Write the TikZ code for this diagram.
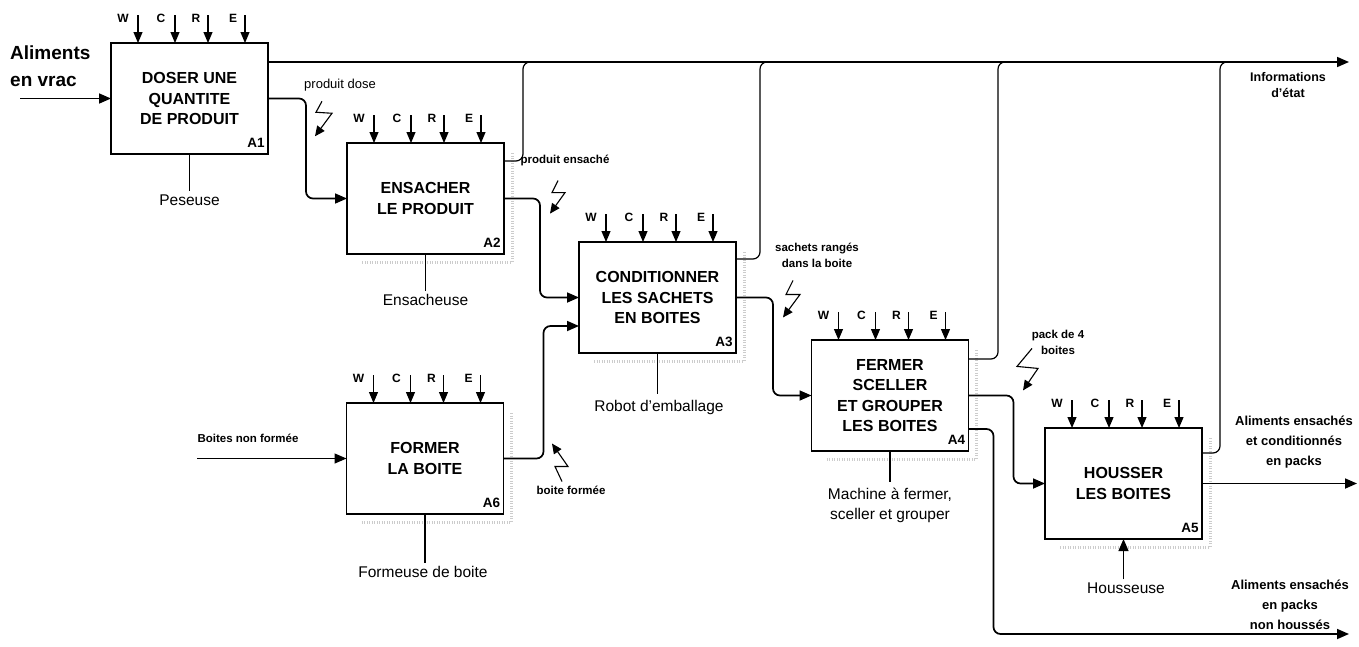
\documentclass[tikz,border=0pt]{standalone}
\usepackage{fontspec}
\setmainfont{Liberation Sans}
\usetikzlibrary{arrows.meta,calc}
\begin{document}
\begin{tikzpicture}[x=1pt,y=-1pt,
  box/.style={draw, line width=1.4pt, minimum width=157pt, minimum height=111pt, inner sep=0pt, outer sep=0pt,
    font=\fontsize{16}{20.5}\selectfont\bfseries, align=center},
  tipA/.style={-{Triangle[length=12pt,width=10pt]}},
  tipC/.style={-{Triangle[length=11pt,width=9pt]}},
  flow/.style={line width=1.7pt, rounded corners=7pt},
  ctl/.style={line width=1.1pt, tipC},
  mech/.style={line width=1.1pt},
  mechtxt/.style={font=\fontsize{15.5}{20}\selectfont, align=center, inner sep=3pt},
  ctltxt/.style={font=\fontsize{12}{13}\selectfont\bfseries, inner sep=0pt},
  idtxt/.style={font=\fontsize{13.5}{14}\selectfont\bfseries, inner sep=0pt},
  small/.style={font=\fontsize{11.5}{16}\selectfont\bfseries, align=center, inner sep=0pt},
  outtxt/.style={font=\fontsize{13}{20}\selectfont\bfseries, align=center, inner sep=0pt},
  bolt/.style={line width=1.1pt, -{Triangle[length=10pt,width=9pt]}},
  shade/.style={draw=gray!40, line width=3pt, dash pattern=on 1pt off 1.5pt}
]
\useasboundingbox (0,0) rectangle (1359,646);

% boxes
\node[box] (a1) at (189.5,98.5) {DOSER UNE\\QUANTITE\\DE PRODUIT};
\node[box] (a2) at (425.5,198.5) {ENSACHER\\LE PRODUIT};
\node[box] (a3) at (657.5,297.5) {CONDITIONNER\\LES SACHETS\\EN BOITES};
\node[box] (a4) at (890,395.5) {FERMER\\SCELLER\\ET GROUPER\\LES BOITES};
\node[box] (a5) at (1123.5,483.5) {HOUSSER\\LES BOITES};
\node[box] (a6) at (425,458.5) {FORMER\\LA BOITE};

% faint shadows
\foreach \b in {a2,a3,a4,a5,a6} {
  \draw[shade] ([shift={(15,8)}]\b.south west) -- ([shift={(8,8)}]\b.south east);
  \draw[shade] ([shift={(8,10)}]\b.north east) -- ([shift={(8,8)}]\b.south east);
}

% ids and controls
\foreach \b/\id in {a1/A1,a2/A2,a3/A3,a4/A4,a5/A5,a6/A6} {
  \node[idtxt] (\b-id) at ([shift={(-12,-11)}]\b.south east) {\id};
  \foreach \dx/\l/\lx in {27/W/15, 64/C/14, 97/R/12, 134/E/12} {
    \draw[ctl] ([shift={(\dx,-28)}]\b.north west) -- ([shift={(\dx,0)}]\b.north west);
    \node[ctltxt] (\b-\l) at ([shift={(\dx-\lx,-25)}]\b.north west) {\l};
  }
}

% input of A1
\node[font=\fontsize{19}{27}\selectfont\bfseries, align=left, anchor=west, inner sep=0pt] (in1) at (10,66) {Aliments\\en vrac};
\coordinate (in1s) at (20,98.5);
\draw[flow, tipA] (in1s) -- (a1.west);

% top status line
\coordinate (infoend) at (1349,62);
\draw[flow, tipA] ([shift={(0,19)}]a1.north east) -- (infoend);
\node[outtxt, font=\fontsize{12.5}{15.5}\selectfont\bfseries] (info) at (1288,85) {Informations\\d'état};

\draw[flow, line width=1.2pt] ([shift={(0,18)}]a2.north east) -| (523,62) -- (545,62);
\draw[flow, line width=1.2pt] ([shift={(0,17)}]a3.north east) -| (760,62) -- (782,62);
\draw[flow, line width=1.2pt] ([shift={(0,19)}]a4.north east) -| (998,62) -- (1020,62);
\draw[flow, line width=1.2pt] ([shift={(0,25)}]a5.north east) -| (1220,62) -- (1242,62);

% main flows
\draw[flow, tipA] (a1.east) -- ++(38,0) |- (a2.west);
\draw[flow, tipA] (a2.east) -- ++(36,0) |- (a3.west);
\draw[flow, tipA] (a6.east) -- ++(40,0) |- ([shift={(0,28.5)}]a3.west);
\draw[flow, tipA] (a3.east) -- ++(37,0) |- (a4.west);
\draw[flow, tipA] (a4.east) -- ++(45,0) |- (a5.west);
\coordinate (botend) at (1349,634);
\draw[flow, tipA] ([shift={(0,89)}]a4.north east) -- ++(25,0) |- (botend);
\coordinate (out5) at (1357,483.5);
\draw[flow, tipA] (a5.east) -- (out5);

% input of A6
\node[small] (in6) at (248,438) {Boites non formée};
\coordinate (in6s) at (197,458.5);
\draw[flow, line width=1.3pt, tipA] (in6s) -- (a6.west);

% output labels
\node[outtxt] (o1) at (1294,442) {Aliments ensachés\\et conditionnés\\en packs};
\node[outtxt] (o2) at (1290,605) {Aliments ensachés\\en packs\\non houssés};

% mechanisms
\node[mechtxt] (m1) at (189.5,200) {Peseuse};
\draw[mech] (a1.south) -- (a1.south |- m1.north);
\node[mechtxt] (m2) at (425.5,300) {Ensacheuse};
\draw[mech] (a2.south) -- (a2.south |- m2.north);
\node[mechtxt] (m3) at (659,407) {Robot d'emballage};
\draw[mech] (a3.south) -- ([yshift=3pt]a3.south |- m3.north);
\node[mechtxt] (m4) at (890,505) {Machine à fermer,\\sceller et grouper};
\draw[mech] (a4.south) -- ([yshift=2pt]a4.south |- m4.north);
\node[mechtxt] (m6) at (423,572) {Formeuse de boite};
\draw[mech] (a6.south) -- (a6.south |- m6.north);
\node[mechtxt] (m5) at (1126,588) {Housseuse};
\draw[mech, tipA] (a5.south |- m5.north) -- (a5.south);

% flow labels with lightning arrows
\node[font=\fontsize{13}{15}\selectfont, inner sep=0pt] (l1) at (340,85) {produit dose};
\draw[bolt] ([shift={(-18,10)}]l1.south) -- ++(-6,11) -- ++(16,1) -- ++(-17,23);
\node[small] (l2) at (565,160) {produit ensaché};
\draw[bolt] ([shift={(-7,15)}]l2.south) -- ++(-6,12) -- ++(13,0) -- ++(-15,21);
\node[small] (l3) at (817,255) {sachets rangés\\dans la boite};
\draw[bolt] ([shift={(-24,13)}]l3.south) -- ++(-7,14) -- ++(14,0) -- ++(-17,23);
\node[small] (l4) at (1058,342) {pack de 4\\boites};
\draw[bolt] ([shift={(-26,-6)}]l4.south) -- ++(-15,18) -- ++(21,2) -- ++(-15,22);
\node[small] (l5) at (571,490) {boite formée};
\draw[bolt] ([shift={(-9,-4)}]l5.north) -- ++(-7,-15) -- ++(13,0) -- ++(-16,-23);
\end{tikzpicture}
\end{document}
